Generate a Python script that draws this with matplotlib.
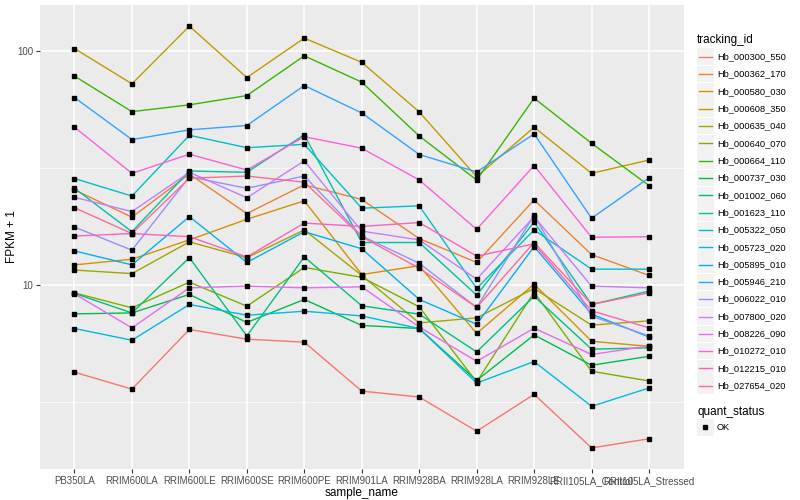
import matplotlib
matplotlib.use("Agg")
import matplotlib.pyplot as plt
import numpy as np
from matplotlib.patches import Rectangle
from matplotlib.lines import Line2D

plt.rcParams["font.family"] = ["Liberation Sans", "DejaVu Sans"]

samples = ["PB350LA", "RRIM600LA", "RRIM600LE", "RRIM600SE", "RRIM600PE", "RRIM901LA",
           "RRIM928BA", "RRIM928LA", "RRIM928LE", "RRII105LA_Control", "RRII105LA_Stressed"]

tracking_ids = ["Hb_000300_550", "Hb_000362_170", "Hb_000580_030", "Hb_000608_350",
                "Hb_000635_040", "Hb_000640_070", "Hb_000664_110", "Hb_000737_030",
                "Hb_001002_060", "Hb_001623_110", "Hb_005322_050", "Hb_005723_020",
                "Hb_005895_010", "Hb_005946_210", "Hb_006022_010", "Hb_007800_020",
                "Hb_008226_090", "Hb_010272_010", "Hb_012215_010", "Hb_027654_020"]

# ggplot hue palette, 20 levels
hue_colors = ["#F8766D", "#EA8331", "#D89000", "#C09B00", "#A3A500", "#7CAE00", "#39B600",
              "#00BB4E", "#00BF7D", "#00C1A3", "#00BFC4", "#00BAE0", "#00B0F6", "#35A2FF",
              "#9590FF", "#C77CFF", "#E76BF3", "#FA62DB", "#FF62BC", "#FF6C91"]

# FPKM + 1 per sample, one list per tracking_id
hb_000300_550 = [4.25, 3.60, 6.47, 5.88, 5.71, 3.53, 3.33, 2.38, 3.42, 2.02, 2.21]
hb_000362_170 = [25.5, 19.5, 29.8, 20.2, 26.8, 23.2, 15.8, 12.5, 23.1, 13.5, 11.0]
hb_000580_030 = [12.2, 12.9, 15.6, 19.1, 22.9, 11.1, 12.1, 6.22, 10.1, 5.76, 5.48]
hb_000608_350 = [102.3, 72.3, 127.5, 76.9, 113.3, 89.3, 54.9, 29.0, 47.2, 30.0, 34.2]
hb_000635_040 = [11.6, 11.2, 15.3, 13.1, 17.2, 11.0, 6.90, 7.25, 9.68, 6.75, 7.04]
hb_000640_070 = [9.27, 8.00, 10.3, 8.13, 11.9, 10.8, 8.08, 3.86, 9.33, 4.29, 3.90]
hb_000664_110 = [78.0, 55.0, 58.8, 64.4, 95.2, 73.5, 43.3, 28.1, 62.8, 40.3, 26.6]
hb_000737_030 = [7.54, 7.61, 9.13, 6.93, 8.69, 6.73, 6.53, 3.92, 6.13, 4.55, 4.97]
hb_001002_060 = [9.22, 7.61, 13.1, 6.07, 13.2, 8.16, 7.52, 5.19, 8.97, 5.33, 5.40]
hb_001623_110 = [25.9, 16.9, 30.7, 30.3, 43.8, 15.2, 15.2, 9.06, 18.6, 8.27, 9.43]
hb_005322_050 = [28.5, 24.0, 43.6, 38.6, 39.9, 21.3, 21.8, 9.68, 17.2, 11.7, 11.7]
hb_005723_020 = [6.53, 5.82, 8.27, 7.44, 7.74, 7.39, 6.53, 3.82, 4.72, 3.04, 3.64]
hb_005895_010 = [14.0, 12.2, 19.6, 12.5, 16.9, 14.3, 8.69, 6.81, 14.6, 7.52, 6.01]
hb_005946_210 = [63.2, 41.8, 46.0, 48.0, 71.1, 54.3, 36.1, 30.4, 44.2, 19.3, 28.7]
hb_006022_010 = [17.7, 14.1, 29.0, 25.9, 29.2, 16.2, 12.4, 8.03, 19.9, 7.37, 6.07]
hb_007800_020 = [23.7, 20.6, 30.3, 23.6, 33.9, 17.0, 15.6, 10.6, 19.6, 9.90, 9.74]
hb_008226_090 = [9.18, 6.57, 9.74, 9.90, 9.74, 9.83, 6.63, 4.73, 6.55, 5.06, 5.50]
hb_010272_010 = [47.2, 30.0, 36.2, 31.0, 43.0, 38.4, 28.1, 17.3, 32.4, 16.0, 16.1]
hb_012215_010 = [16.2, 16.6, 16.1, 13.2, 18.4, 17.8, 18.5, 13.3, 15.0, 7.77, 6.57]
hb_027654_020 = [21.4, 16.6, 28.6, 29.2, 27.5, 16.1, 11.8, 8.03, 15.2, 8.27, 9.27]

series = [hb_000300_550, hb_000362_170, hb_000580_030, hb_000608_350, hb_000635_040,
          hb_000640_070, hb_000664_110, hb_000737_030, hb_001002_060, hb_001623_110,
          hb_005322_050, hb_005723_020, hb_005895_010, hb_005946_210, hb_006022_010,
          hb_007800_020, hb_008226_090, hb_010272_010, hb_012215_010, hb_027654_020]

fig = plt.figure(figsize=(8, 5), dpi=100)
ax = fig.add_axes([40 / 800, 31 / 500, 643.5 / 800, 464 / 500])
ax.set_facecolor("#EBEBEB")

x = np.arange(len(samples))
for vals, col in zip(series, hue_colors):
    ax.plot(x, vals, color=col, lw=1.0, zorder=2)
for vals in series:
    ax.plot(x, vals, ls="none", marker="s", ms=3.0, color="black", zorder=3)

ax.set_yscale("log")
allv = np.log10(np.concatenate([np.asarray(s) for s in series]))
lo, hi = allv.min(), allv.max()
pad = 0.05 * (hi - lo)
ax.set_ylim(10 ** (lo - pad), 10 ** (hi + pad))
ax.set_xlim(-0.6, len(samples) - 1 + 0.6)

ax.set_yticks([10, 100])
ax.set_yticklabels(["10", "100"])
ax.set_yticks([10 ** 0.5, 10 ** 1.5], minor=True)
ax.yaxis.set_minor_formatter(plt.NullFormatter())
ax.set_xticks(x)
ax.set_xticklabels(samples)
ax.grid(True, which="major", color="white", lw=1.1)
ax.grid(True, which="minor", axis="y", color="white", lw=0.5)
ax.set_axisbelow(True)
for sp in ax.spines.values():
    sp.set_visible(False)
ax.tick_params(which="major", length=3, width=0.8, color="#333333", labelsize=7,
               labelcolor="#4D4D4D", pad=2)
ax.tick_params(which="minor", length=0)
ax.set_xlabel("sample_name", fontsize=8.5, labelpad=1)
ax.set_ylabel("FPKM + 1", fontsize=8.5)
ax.yaxis.set_label_coords(-22 / 643.5, 0.5)

# legend drawn in pixel space
lax = fig.add_axes([0, 0, 1, 1])
lax.set_xlim(0, 800)
lax.set_ylim(500, 0)
lax.axis("off")
lax.text(697, 40.5, "tracking_id", fontsize=8.5, va="center", ha="left")
for i, (name, col) in enumerate(zip(tracking_ids, hue_colors)):
    yc = 56.7 + i * 17.32
    lax.add_patch(Rectangle((697, yc - 8.3), 16.5, 16.6, color="#F2F2F2", lw=0))
    lax.add_line(Line2D([698.5, 711.5], [yc, yc], color=col, lw=1.0))
    lax.text(717, yc, name, fontsize=6.7, va="center", ha="left")
lax.text(697, 411.7, "quant_status", fontsize=8.5, va="center", ha="left")
lax.add_patch(Rectangle((697, 427.3 - 8.3), 16.5, 16.6, color="#F2F2F2", lw=0))
lax.add_line(Line2D([705.2], [427.3], ls="none", marker="s", ms=3.0, color="black"))
lax.text(717, 427.3, "OK", fontsize=6.7, va="center", ha="left")

fig.savefig("out.png", dpi=100)
